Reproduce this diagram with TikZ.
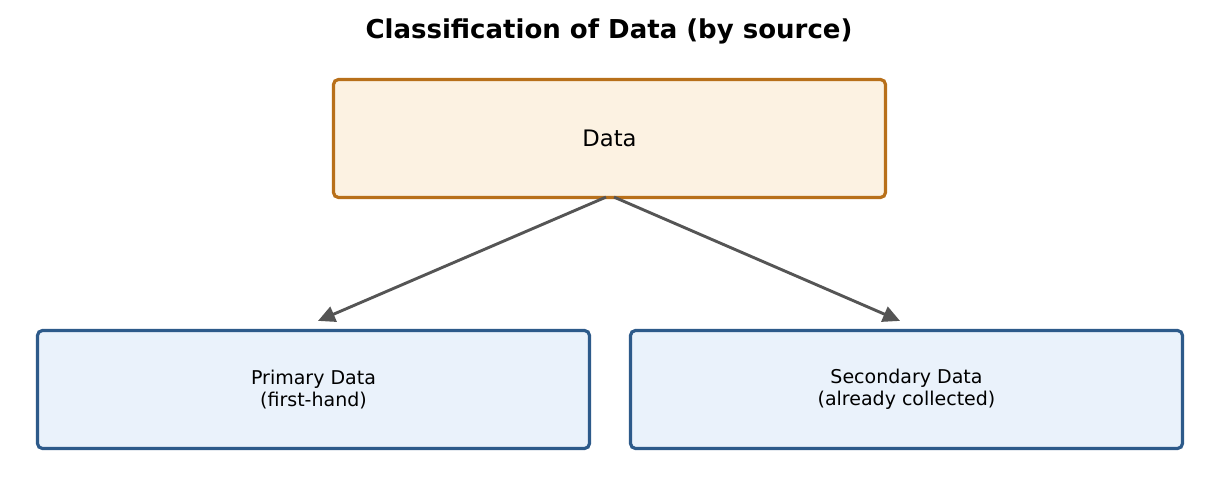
\documentclass[tikz,border=0pt]{standalone}
\usepackage{fontspec}
\setmainfont{DejaVu Sans}
\usetikzlibrary{arrows.meta,calc}
\definecolor{topfill}{HTML}{FCF2E2}
\definecolor{topdraw}{HTML}{B8701A}
\definecolor{botfill}{HTML}{EAF2FB}
\definecolor{botdraw}{HTML}{2D5A8A}
\definecolor{arr}{HTML}{555555}
\begin{document}
\begin{tikzpicture}[x=1pt,y=1pt,
  topbox/.style={draw=topdraw,fill=topfill,line width=3.2pt,rounded corners=5pt,minimum width=552pt,minimum height=118pt,inner sep=0pt,align=center,font=\fontsize{22.7}{26}\selectfont},
  botbox/.style={draw=botdraw,fill=botfill,line width=3.2pt,rounded corners=5pt,minimum width=552pt,minimum height=118pt,inner sep=0pt,align=center,font=\fontsize{19}{22}\selectfont},
  conn/.style={draw=arr,line width=2.9pt,-{Triangle[length=17pt,width=16pt]}}]
\useasboundingbox (0,0) rectangle (1219,496);
\node[font=\bfseries\fontsize{26}{30}\selectfont] (title) at (609,465) {Classification of Data (by source)};
\node[topbox] (data) at (609.5,357.5) {Data};
\node[botbox] (prim) at (313.5,106.5) {Primary Data\\(first-hand)};
\node[botbox] (sec) at (906.5,106.5) {Secondary Data\\(already collected)};
\coordinate (pt) at ($(prim.north)+(4.5,8)$);
\coordinate (st) at ($(sec.north)+(-6.5,8)$);
\draw[conn] ($(data.south)+(-3.5,2)$) -- (pt);
\draw[conn] ($(data.south)+(4.5,2)$) -- (st);
\end{tikzpicture}
\end{document}
